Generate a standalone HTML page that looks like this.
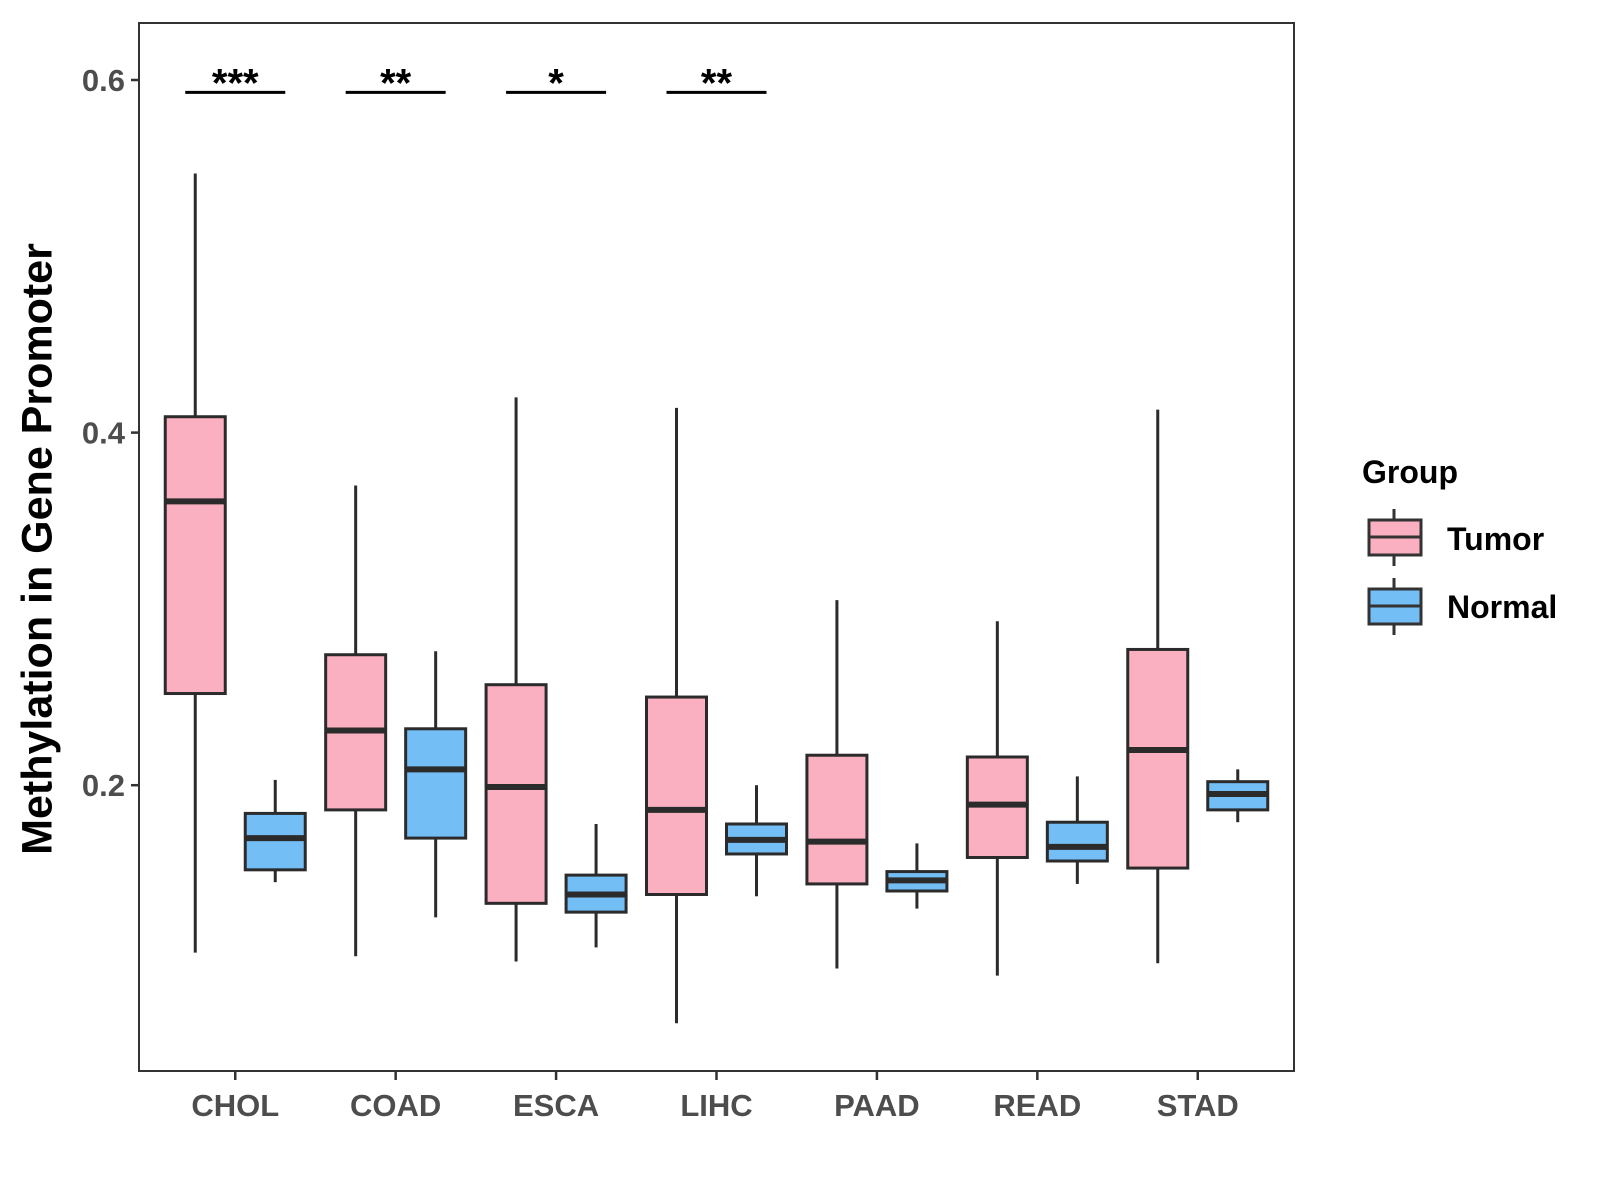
<!DOCTYPE html>
<html><head><meta charset="utf-8"><style>
html,body{margin:0;padding:0;background:#fff;width:1600px;height:1200px;overflow:hidden}
svg{display:block;font-family:"Liberation Sans",Arial,sans-serif}
</style></head><body>
<svg id="chart" width="1600" height="1200" viewBox="0 0 1600 1200">
<rect x="139" y="23" width="1155" height="1048" fill="#fff" stroke="#333" stroke-width="2"/>
<g id="marks"></g>
<text x="40" y="549" transform="rotate(-90 40 549)" text-anchor="middle" font-size="43" font-weight="bold" fill="#000" dominant-baseline="middle">Methylation in Gene Promoter</text>
<g>
<text x="1362" y="483" font-size="32" font-weight="bold">Group</text>
<g>
<line x1="1394" y1="509" x2="1394" y2="566" stroke="#333" stroke-width="3"/>
<rect x="1369" y="520" width="52" height="35" fill="#FBB0C1" stroke="#333" stroke-width="3"/>
<line x1="1369" y1="537" x2="1421" y2="537" stroke="#333" stroke-width="3"/>
<text x="1447" y="550" font-size="32" font-weight="bold">Tumor</text>
</g>
<g>
<line x1="1394" y1="578" x2="1394" y2="635" stroke="#333" stroke-width="3"/>
<rect x="1369" y="589" width="52" height="35" fill="#74BEF6" stroke="#333" stroke-width="3"/>
<line x1="1369" y1="606" x2="1421" y2="606" stroke="#333" stroke-width="3"/>
<text x="1447" y="618" font-size="32" font-weight="bold">Normal</text>
</g>
</g>
</svg>
<script>
const categories = ["CHOL","COAD","ESCA","LIHC","PAAD","READ","STAD"];
const tumorStats = [
 [0.105,0.252,0.361,0.409,0.547],
 [0.103,0.186,0.231,0.274,0.370],
 [0.100,0.133,0.199,0.257,0.420],
 [0.065,0.138,0.186,0.250,0.414],
 [0.096,0.144,0.168,0.217,0.305],
 [0.092,0.159,0.189,0.216,0.293],
 [0.099,0.153,0.220,0.277,0.413]
];
const normalStats = [
 [0.145,0.152,0.170,0.184,0.203],
 [0.125,0.170,0.209,0.232,0.276],
 [0.108,0.128,0.138,0.149,0.178],
 [0.137,0.161,0.169,0.178,0.200],
 [0.130,0.140,0.146,0.151,0.167],
 [0.144,0.157,0.165,0.179,0.205],
 [0.179,0.186,0.195,0.202,0.209]
];
const yTicks = [0.2,0.4,0.6];
const yTickLabels = ["0.2","0.4","0.6"];
const sigLabels = ["***","**","*","**"];
const sigLevel = 0.593;

const NS="http://www.w3.org/2000/svg";
const X0=139, XW=1155, step=XW/7.2;
function xPos(i){return X0+(0.6+i)*step;}
function yPos(v){return 80+(0.6-v)*1763;}
const g=document.getElementById('marks');
function mk(tag,attrs,parent){const e=document.createElementNS(NS,tag);for(const k in attrs)e.setAttribute(k,attrs[k]);(parent||g).appendChild(e);return e;}

yTicks.forEach((v,i)=>{
 const t=mk('line',{x1:131,x2:139,y1:yPos(v),y2:yPos(v),stroke:'#333','stroke-width':2.5});
 
 
 const l=mk('text',{x:125,y:yPos(v)+11,'text-anchor':'end','font-size':31,'font-weight':'bold',fill:'#4d4d4d'});
 l.textContent=yTickLabels[i];
 
 
});
categories.forEach((c,i)=>{
 const x=xPos(i);
 const t=mk('line',{x1:x,x2:x,y1:1071,y2:1080,stroke:'#333','stroke-width':2.5});
 
 
 const l=mk('text',{x:x,y:1116,'text-anchor':'middle','font-size':31,'font-weight':'bold',fill:'#4d4d4d'});
 l.textContent=c;
 
 
});
function box(cx,s,fill,name){
 const grp=mk('g',{});
 
 
 const w=60;
 mk('line',{x1:cx,x2:cx,y1:yPos(s[4]),y2:yPos(s[3]),stroke:'#2b2b2b','stroke-width':3},grp);
 mk('line',{x1:cx,x2:cx,y1:yPos(s[1]),y2:yPos(s[0]),stroke:'#2b2b2b','stroke-width':3},grp);
 mk('rect',{x:cx-w/2,y:yPos(s[3]),width:w,height:yPos(s[1])-yPos(s[3]),fill:fill,stroke:'#2b2b2b','stroke-width':3},grp);
 mk('line',{x1:cx-w/2,x2:cx+w/2,y1:yPos(s[2]),y2:yPos(s[2]),stroke:'#2b2b2b','stroke-width':6},grp);
}
categories.forEach((c,i)=>{
 box(xPos(i)-40,tumorStats[i],'#FBB0C1','box-tumor-'+c.toLowerCase());
 box(xPos(i)+40,normalStats[i],'#74BEF6','box-normal-'+c.toLowerCase());
});
sigLabels.forEach((s,i)=>{
 const x=xPos(i);
 const ln=mk('line',{x1:x-50,x2:x+50,y1:yPos(sigLevel),y2:yPos(sigLevel),stroke:'#000','stroke-width':3});
 
 
 const t=mk('text',{x:x,y:yPos(sigLevel)+4,'text-anchor':'middle','font-size':40,'font-weight':'bold',fill:'#000'});
 t.textContent=s;
 
 
});
</script>
</body></html>
